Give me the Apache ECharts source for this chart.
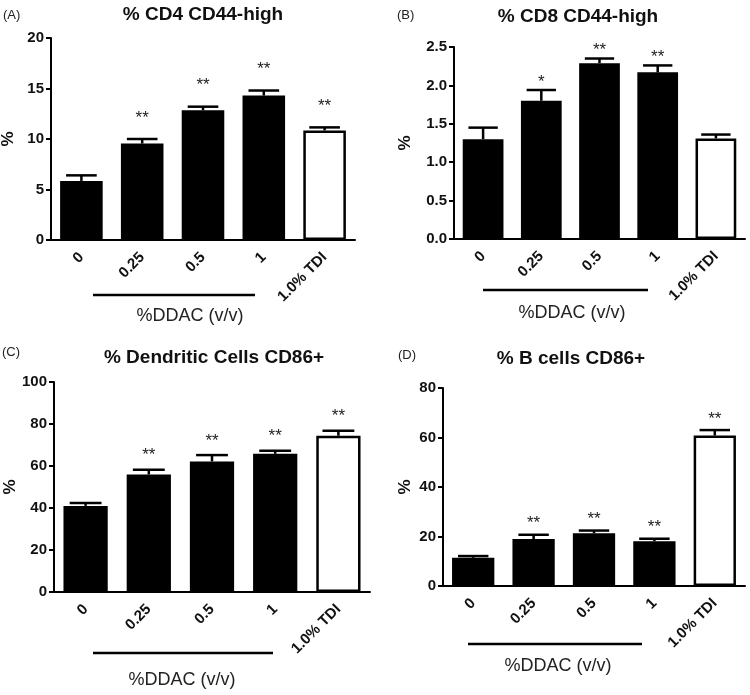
<!DOCTYPE html>
<html>
<head>
<meta charset="utf-8">
<script src="https://cdn.jsdelivr.net/npm/echarts@6/dist/echarts.min.js"></script>
<style>
  html, body { margin: 0; padding: 0; background: #fff; }
  #chart { width: 750px; height: 695px; }
</style>
</head>
<body>
<div id="chart"></div>
<script>
// categories shared by all four panels
const categories = ['0', '0.25', '0.5', '1', '1.0% TDI']

// (A) % CD4 CD44-high
const cd4Mean = [5.85, 9.55, 12.85, 14.3, 10.85]
const cd4Err = [0.55, 0.45, 0.35, 0.5, 0.3]
const cd4Sig = ['', '**', '**', '**', '**']

// (B) % CD8 CD44-high
const cd8Mean = [1.30, 1.80, 2.29, 2.17, 1.31]
const cd8Err = [0.15, 0.14, 0.06, 0.09, 0.05]
const cd8Sig = ['', '*', '**', '**', '']

// (C) % Dendritic Cells CD86+
const dcMean = [41, 56, 62.2, 65.8, 74.4]
const dcErr = [1.4, 2.2, 3.0, 1.5, 2.4]
const dcSig = ['', '**', '**', '**', '**']

// (D) % B cells CD86+
const bMean = [11.4, 19.0, 21.3, 18.1, 60.8]
const bErr = [0.7, 1.7, 1.1, 1.0, 2.2]
const bSig = ['', '**', '**', '**', '**']

const FONT = '"Liberation Sans", Arial, sans-serif'

const panels = [
  { letter: '(A)', title: '% CD4 CD44-high', mean: cd4Mean, err: cd4Err, sig: cd4Sig,
    max: 20, interval: 5, digits: 0, starGap: 21, nameGap: 34,
    grid: { left: 51, top: 38, width: 304, height: 202 },
    letterPos: [3, 15], titlePos: [203, 15], linePos: [93, 255, 295], ddacPos: [190, 316] },
  { letter: '(B)', title: '% CD8 CD44-high', mean: cd8Mean, err: cd8Err, sig: cd8Sig,
    max: 2.5, interval: 0.5, digits: 1, starGap: 8, nameGap: 40,
    grid: { left: 454, top: 47, width: 291, height: 192 },
    letterPos: [397, 15], titlePos: [578, 17], linePos: [483, 648, 290], ddacPos: [572, 313] },
  { letter: '(C)', title: '% Dendritic Cells CD86+', mean: dcMean, err: dcErr, sig: dcSig,
    max: 100, interval: 20, digits: 0, starGap: 14, nameGap: 35,
    grid: { left: 54, top: 382, width: 316, height: 210 },
    letterPos: [2, 352], titlePos: [214, 358], linePos: [93, 273, 653], ddacPos: [182, 680] },
  { letter: '(D)', title: '% B cells CD86+', mean: bMean, err: bErr, sig: bSig,
    max: 80, interval: 20, digits: 0, starGap: 11, nameGap: 29,
    grid: { left: 443, top: 388, width: 302, height: 198 },
    letterPos: [398, 355], titlePos: [571, 359], linePos: [468, 642, 644], ddacPos: [558, 666] }
]

// 误差线 + 显著性星号
function errorRender(sig, starGap) {
  return function (params, api) {
    const i = api.value(0)
    const base = api.coord([i, api.value(1)])
    const top = api.coord([i, api.value(1) + api.value(2)])
    const half = api.size([1, 0])[0] * 0.7 * 0.36
    const children = [
      { type: 'line', shape: { x1: top[0], y1: base[1], x2: top[0], y2: top[1] },
        style: { stroke: '#000', lineWidth: 2.5 } },
      { type: 'line', shape: { x1: top[0] - half, y1: top[1], x2: top[0] + half, y2: top[1] },
        style: { stroke: '#000', lineWidth: 2.5 } }
    ]
    if (sig[i]) {
      children.push({
        type: 'text', x: top[0], y: top[1] - starGap,
        style: { text: sig[i], fill: '#222', font: '17px ' + FONT, textAlign: 'center', textVerticalAlign: 'middle' }
      })
    }
    return { type: 'group', children: children }
  }
}

const grids = [], xAxes = [], yAxes = [], series = [], graphics = []

panels.forEach((p, k) => {
  grids.push(Object.assign({ outerBoundsMode: 'none', containLabel: false }, p.grid))
  xAxes.push({
    type: 'category', gridIndex: k, data: categories,
    axisLine: { lineStyle: { color: '#000', width: 2 } },
    axisTick: { alignWithLabel: true, length: 6, lineStyle: { color: '#000', width: 2 } },
    axisLabel: { rotate: 45, margin: 15, color: '#111', fontWeight: 'bold', fontSize: 15, fontFamily: FONT }
  })
  yAxes.push({
    type: 'value', gridIndex: k, min: 0, max: p.max, interval: p.interval,
    name: '%', nameLocation: 'middle', nameGap: p.nameGap, nameRotate: 90, nameMoveOverlap: false,
    nameTextStyle: { color: '#111', fontWeight: 'bold', fontSize: 17, fontFamily: FONT },
    splitLine: { show: false },
    axisLine: { show: true, lineStyle: { color: '#000', width: 2 } },
    axisTick: { show: true, length: 5, lineStyle: { color: '#000', width: 2 } },
    axisLabel: { margin: 7, color: '#111', fontWeight: 'bold', fontSize: 15, fontFamily: FONT,
      formatter: v => v.toFixed(p.digits) }
  })
  series.push({
    type: 'bar', xAxisIndex: k, yAxisIndex: k, barCategoryGap: '30%',
    data: p.mean.map((m, i) => ({
      value: m,
      itemStyle: { color: i === 4 ? '#fff' : '#000', borderColor: '#000', borderWidth: 2.5 }
    })),
    silent: true
  })
  series.push({
    type: 'custom', xAxisIndex: k, yAxisIndex: k, z: 5, silent: true,
    renderItem: errorRender(p.sig, p.starGap),
    data: p.mean.map((m, i) => [i, m, p.err[i]])
  })

  graphics.push(
    { type: 'text', x: p.letterPos[0], y: p.letterPos[1],
      style: { text: p.letter, fill: '#222', font: '13px ' + FONT, textVerticalAlign: 'middle' } },
    { type: 'text', x: p.titlePos[0], y: p.titlePos[1],
      style: { text: p.title, fill: '#111', font: 'bold 19px ' + FONT, textAlign: 'center', textVerticalAlign: 'middle' } },
    { type: 'line', shape: { x1: p.linePos[0], y1: p.linePos[2], x2: p.linePos[1], y2: p.linePos[2] },
      style: { stroke: '#000', lineWidth: 2.5 } },
    { type: 'text', x: p.ddacPos[0], y: p.ddacPos[1],
      style: { text: '%DDAC (v/v)', fill: '#222', font: '18px ' + FONT, textAlign: 'center', textVerticalAlign: 'middle' } }
  )
})

const chart = echarts.init(document.getElementById('chart'))
chart.setOption({
  animation: false,
  backgroundColor: '#fff',
  grid: grids,
  xAxis: xAxes,
  yAxis: yAxes,
  series: series,
  graphic: graphics
})
</script>
</body>
</html>
